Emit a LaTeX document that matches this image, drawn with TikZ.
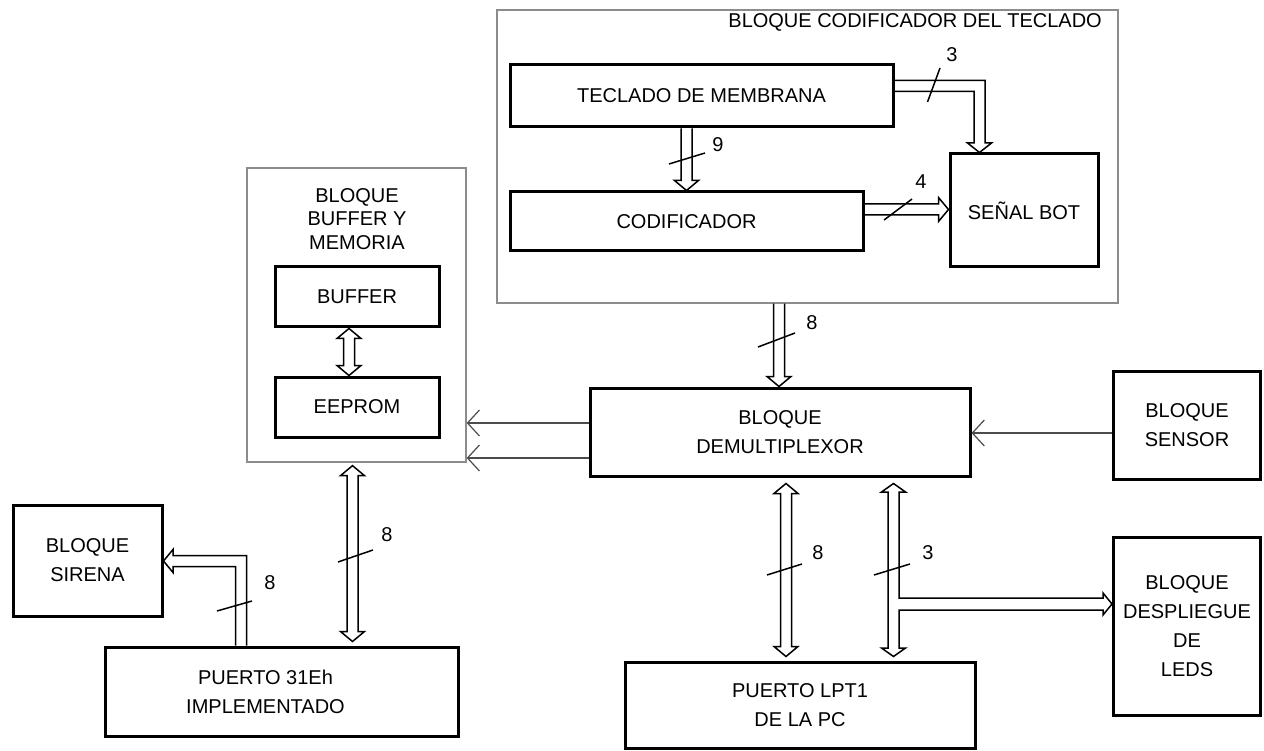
\documentclass[tikz,border=0pt]{standalone}
\usepackage{fontspec}
\setmainfont{Liberation Sans}
\usetikzlibrary{calc,arrows.meta}
\tikzset{
 blk/.style={draw=black, line width=3pt, inner sep=0pt, align=center, font=\fontsize{20}{29}\selectfont},
 grp/.style={draw=black!45, line width=1.3pt, inner sep=0pt},
 bus/.style={draw=black, line width=1.5pt, line join=miter},
 thinarr/.style={draw=black!70, line width=1.2pt, -{Straight Barb[length=12pt,width=26pt,line width=1.2pt]}},
 slash/.style={line width=1.5pt},
 num/.style={font=\fontsize{20}{24}\selectfont, inner sep=0pt},
 ttl/.style={font=\fontsize{20}{24}\selectfont, inner sep=0pt, align=center}
}
% single-headed hollow bus from #1 to #2 (head at #2)
\newcommand\busone[2]{%
  \coordinate (bh) at ($(#2)!10pt!(#1)$);
  \draw[bus] ($(#1)!5.5pt!90:(#2)$) -- ($(bh)!5.5pt!-90:(#1)$) -- ($(bh)!12pt!-90:(#1)$) -- (#2)
    -- ($(bh)!12pt!90:(#1)$) -- ($(bh)!5.5pt!90:(#1)$) -- ($(#1)!5.5pt!-90:(#2)$);
}
% double-headed hollow bus between #1 and #2
\newcommand\bustwo[2]{%
  \coordinate (ha) at ($(#1)!10pt!(#2)$);
  \coordinate (hb) at ($(#2)!10pt!(#1)$);
  \draw[bus] (#1) -- ($(ha)!12pt!90:(#2)$) -- ($(ha)!5.5pt!90:(#2)$) -- ($(hb)!5.5pt!-90:(#1)$)
    -- ($(hb)!12pt!-90:(#1)$) -- (#2) -- ($(hb)!12pt!90:(#1)$) -- ($(hb)!5.5pt!90:(#1)$)
    -- ($(ha)!5.5pt!-90:(#2)$) -- ($(ha)!12pt!-90:(#2)$) -- cycle;
}
\begin{document}
\begin{tikzpicture}[x=1pt,y=-1pt]
\useasboundingbox (0,0) rectangle (1264,751);
\fill[white] (0,0) rectangle (1264,751);

% group boxes
\node[grp, minimum width=621pt, minimum height=293pt] (grpT) at (807.5,156.5) {};
\node[grp, minimum width=219pt, minimum height=294pt] (grpB) at (356.5,315) {};
\node[ttl, anchor=east] (tT) at (1102,22) {BLOQUE CODIFICADOR DEL TECLADO};
\node[ttl, font=\fontsize{20}{23.5}\selectfont] (tB) at (357,219) {BLOQUE\\BUFFER Y\\MEMORIA};

% blocks
\node[blk, minimum width=383pt, minimum height=62pt] (tec) at (701.5,96) {TECLADO DE MEMBRANA};
\node[blk, minimum width=353pt, minimum height=59pt] (cod) at (686.5,221.5) {CODIFICADOR};
\node[blk, minimum width=148pt, minimum height=113pt] (sen) at (1024,210.5) {SEÑAL BOT};
\node[blk, minimum width=164pt, minimum height=60pt] (buf) at (357,297) {BUFFER};
\node[blk, minimum width=164pt, minimum height=60pt] (eep) at (357,407) {EEPROM};
\node[blk, minimum width=380pt, minimum height=88pt] (dmx) at (780,432) {BLOQUE\\DEMULTIPLEXOR};
\node[blk, minimum width=147pt, minimum height=108pt] (sns) at (1187,425) {BLOQUE\\SENSOR};
\node[blk, minimum width=149pt, minimum height=111pt] (sir) at (87.5,560.5) {BLOQUE\\SIRENA};
\node[blk, minimum width=353pt, minimum height=89pt] (p31) at (281.5,691.5) {\hspace*{-32pt}PUERTO 31Eh\\\hspace*{-32pt}IMPLEMENTADO};
\node[blk, minimum width=350pt, minimum height=86pt] (lpt) at (800,705) {PUERTO LPT1\\DE LA PC};
\node[blk, minimum width=147pt, minimum height=178pt] (dsp) at (1187,626.5) {BLOQUE\\DESPLIEGUE\\DE\\LEDS};

% buses
\coordinate (b9a) at (tec.south -| cod.north);
\busone{b9a}{cod.north}
\coordinate (b4a) at (cod.east |- 0,209.5);
\coordinate (b4b) at (sen.west |- b4a);
\busone{b4a}{b4b}
\draw[bus] (tec.east |- 0,80.5) -- (985,80.5) -- (985,143) -- (991.5,143) -- (sen.north -| 979.5,0)
  -- (967.5,143) -- (974,143) -- (974,91.5) -- (tec.east |- 0,91.5);
\coordinate (b8a) at (grpT.south -| 779,0);
\coordinate (b8b) at (dmx.north -| b8a);
\busone{b8a}{b8b}
\coordinate (bea) at (buf.south -| 349,0);
\coordinate (beb) at (eep.north -| bea);
\bustwo{bea}{beb}
\coordinate (bpa) at ($(grpB.south -| 352.5,0)+(0,3)$);
\coordinate (bpb) at ($(p31.north -| bpa)+(0,-4)$);
\bustwo{bpa}{bpb}
\coordinate (bla) at ($(dmx.south -| 786,0)+(0,6)$);
\coordinate (blb) at ($(lpt.north -| bla)+(0,-4)$);
\bustwo{bla}{blb}
\coordinate (b3a) at ($(dmx.south -| 893.5,0)+(0,6)$);
\coordinate (b3b) at ($(lpt.north -| b3a)+(0,-4)$);
\coordinate (b3c) at (dsp.west |- 0,604);
\draw[bus] (b3a) -- (905.5,492) -- (899,492) -- (899,598) -- (1103,598) -- (1103,593) -- (b3c)
  -- (1103,615) -- (1103,610) -- (899,610) -- (899,648) -- (905.5,648) -- (b3b)
  -- (881.5,648) -- (888,648) -- (888,492) -- (881.5,492) -- cycle;
\coordinate (bsa) at (p31.north -| 241,0);
\coordinate (bsb) at (sir.east |- 0,561);
\draw[bus] (bsa -| 235.5,0) -- (235.5,566.5) -- (173,566.5) -- (173,572.5) -- (bsb)
  -- (173,549.5) -- (173,555.5) -- (246.5,555.5) -- (bsa -| 246.5,0);

% thin arrows
\draw[thinarr] (dmx.west |- 0,423) -- (grpB.east |- 0,423);
\draw[thinarr] (dmx.west |- 0,458) -- (grpB.east |- 0,458);
\draw[thinarr] (sns.west |- 0,433) -- (dmx.east |- 0,433);

% bus width marks
\draw[slash] (669,164) -- (705,153); \node[num] (n9) at (718,145) {9};
\draw[slash] (927.5,102) -- (940,68); \node[num] (n3a) at (952,55) {3};
\draw[slash] (884,220) -- (912,199); \node[num] (n4) at (921,182) {4};
\draw[slash] (758,347) -- (795,333); \node[num] (n8a) at (812,323) {8};
\draw[slash] (338,562) -- (373,550); \node[num] (n8b) at (387,535) {8};
\draw[slash] (217,611) -- (252,601); \node[num] (n8c) at (270,583) {8};
\draw[slash] (767,575) -- (802,564); \node[num] (n8d) at (818,553) {8};
\draw[slash] (874,575) -- (910,564); \node[num] (n3b) at (928,553) {3};
\end{tikzpicture}
\end{document}
